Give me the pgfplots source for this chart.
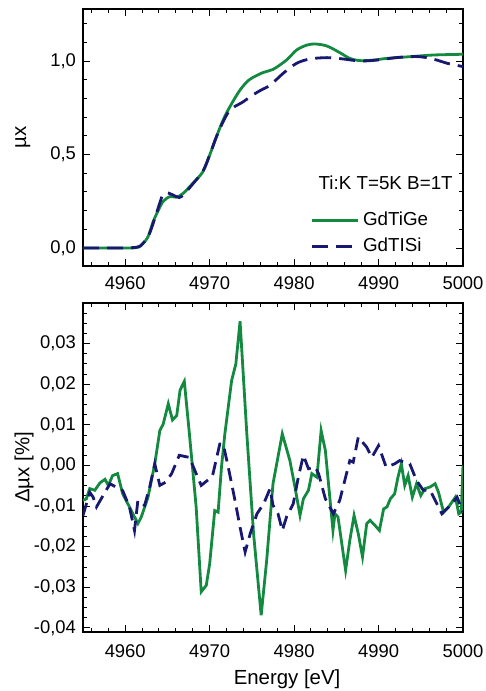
\documentclass[border=0pt]{standalone}
\usepackage{pgfplots}
\pgfplotsset{compat=1.18}
\usepackage{fontspec}
\setmainfont{Liberation Sans}

\definecolor{gtgreen}{RGB}{20,138,64}
\definecolor{gtnavy}{RGB}{24,24,112}

\pgfplotsset{
  panel/.style={
    scale only axis,
    width=190pt,
    xmin=4955, xmax=5000,
    xtick={4960,4970,...,5000},
    minor xtick={4956,4958,...,5000},
    tick align=inside,
    major tick length=3.5pt,
    minor tick length=2pt,
    every tick/.style={black, line width=0.5pt},
    axis line style={line width=0.8pt},
    tick label style={font=\fontsize{9.2}{11}\selectfont},
    label style={font=\fontsize{10.2}{12}\selectfont},
    /pgf/number format/assume math mode=true,
    scaled x ticks=false, scaled y ticks=false,
    x tick label style={/pgf/number format/fixed, /pgf/number format/1000 sep={}},
  },
  gdge/.style={color=gtgreen, line width=1.4pt},
  gdsi/.style={color=gtnavy, line width=1.4pt, dash pattern=on 7pt off 3.5pt},
}

\begin{document}
\begin{tikzpicture}
\useasboundingbox (0,0) rectangle (243pt,-345.5pt);

% upper panel: absorption
\begin{axis}[
  panel,
  at={(41.5pt,-133pt)}, anchor=south west,
  height=128.5pt,
  ymin=-0.096, ymax=1.278,
  ytick={0,0.5,1},
  minor ytick={0.1,0.2,0.3,0.4,0.6,0.7,0.8,0.9,1.1,1.2},
  y tick label style={/pgf/number format/fixed, /pgf/number format/fixed zerofill,
    /pgf/number format/precision=1, /pgf/number format/use comma},
  xticklabel style={yshift=-2pt},
  ylabel={µx},
  ylabel style={at={(axis description cs:-0.158,0.5)}, anchor=center},
  legend style={draw=none, fill=none, at={(axis description cs:0.597,0.226)}, anchor=north west,
    font=\fontsize{9.4}{11}\selectfont, row sep=0.5pt, inner sep=0pt,
    /tikz/every even column/.append style={column sep=2pt}},
  legend cell align=left,
  legend image code/.code={\draw[#1] (0pt,0pt) -- (23pt,0pt);},
]
\addplot[gdge, smooth] coordinates {
  (4955,0) (4958,0) (4961.3,0.002) (4962.1,0.025) (4962.7,0.06) (4963.3,0.14)
  (4963.9,0.20) (4964.5,0.25) (4965.3,0.275) (4966.0,0.272) (4966.8,0.29)
  (4968.0,0.346) (4969.2,0.408) (4970.0,0.497) (4970.8,0.595) (4971.6,0.685)
  (4972.4,0.756) (4973.6,0.845) (4974.7,0.90) (4976.3,0.938) (4977.5,0.955)
  (4979.1,1.005) (4980.3,1.059) (4981.5,1.085) (4982.5,1.091) (4983.9,1.080)
  (4985.4,1.045) (4986.6,1.014) (4987.8,1.002) (4989.4,1.005) (4991.0,1.014)
  (4993.7,1.023) (4996.5,1.032) (5000,1.036)
};
\addlegendentry{GdTiGe}
\addplot[gdsi, smooth, dash pattern=on 8pt off 4pt] coordinates {
  (4955,0) (4958,0) (4961.3,0.004) (4962.2,0.03) (4962.9,0.08) (4963.8,0.20)
  (4964.4,0.28) (4964.9,0.296) (4965.7,0.283) (4966.4,0.27) (4967.0,0.29)
  (4968.4,0.364) (4969.2,0.41) (4970.0,0.497) (4970.8,0.595) (4971.6,0.676)
  (4972.2,0.725) (4972.8,0.752) (4973.9,0.78) (4975.1,0.818) (4976.1,0.845)
  (4977.2,0.872) (4978.7,0.934) (4980.3,0.988) (4981.9,1.011) (4983.9,1.018)
  (4985.8,1.011) (4987.8,1.0) (4989.8,1.005) (4992.5,1.02) (4994.9,1.023)
  (4996.9,1.005) (4998.1,0.988) (5000,0.97)
};
\addlegendentry{GdTISi}
\node[anchor=east, font=\fontsize{9.4}{11}\selectfont, inner sep=0pt]
  at (axis description cs:0.974,0.323) {Ti:K T=5K B=1T};
\end{axis}

% lower panel: difference
\begin{axis}[
  panel,
  at={(41.5pt,-316pt)}, anchor=south west,
  height=164.5pt,
  ymin=-0.041, ymax=0.040,
  ytick={-0.04,-0.03,...,0.031},
  minor ytick={-0.0375,-0.035,-0.0325,-0.0275,-0.025,-0.0225,-0.0175,-0.015,-0.0125,
    -0.0075,-0.005,-0.0025,0.0025,0.005,0.0075,0.0125,0.015,0.0175,0.0225,0.025,0.0275,
    0.0325,0.035,0.0375},
  y tick label style={/pgf/number format/fixed, /pgf/number format/fixed zerofill,
    /pgf/number format/precision=2, /pgf/number format/use comma},
  xticklabel style={yshift=-3pt},
  xlabel={Energy [eV]},
  xlabel style={at={(axis description cs:0.537,-0.143)}, anchor=center},
  ylabel={Δµx [\%]},
  ylabel style={at={(axis description cs:-0.155,0.5)}, anchor=center},
]
\addplot[gdge] coordinates {
  (4955,-0.0086) (4955.4,-0.0082) (4955.8,-0.0057) (4956.4,-0.0061) (4957.0,-0.0043)
  (4957.6,-0.0034) (4958.0,-0.0049) (4958.5,-0.0025) (4959.1,-0.0020) (4959.7,-0.0070)
  (4960.5,-0.0102) (4961.5,-0.0143) (4961.9,-0.0127) (4962.7,-0.0078) (4963.5,0.0004)
  (4964.1,0.0086) (4964.5,0.0102) (4965.1,0.0152) (4965.6,0.0112) (4966.1,0.0123)
  (4966.5,0.0186) (4967.0,0.0207) (4967.6,0.0078) (4968.4,-0.0102) (4969.0,-0.0311)
  (4969.6,-0.0295) (4970.0,-0.0242) (4970.6,-0.0111) (4971.0,-0.0115) (4971.4,-0.0004)
  (4971.8,0.0078) (4972.6,0.0209) (4973.1,0.0250) (4973.6,0.0355) (4974.4,0.0078)
  (4975.2,-0.0168) (4976.1,-0.0369) (4976.75,-0.0234) (4977.5,-0.0045) (4978.6,0.0078)
  (4979.5,0.0012) (4980.1,-0.0053) (4980.7,-0.0123) (4981.1,-0.0082) (4981.7,-0.0061)
  (4982.1,-0.0020) (4982.7,-0.0029) (4983.2,0.0086) (4983.7,0.0037) (4984.6,-0.0160)
  (4984.84,-0.0119) (4985.2,-0.0127) (4986.1,-0.0258) (4986.6,-0.0184) (4987.1,-0.0123)
  (4987.6,-0.0168) (4988.1,-0.0225) (4988.6,-0.0143) (4989.0,-0.0135) (4989.6,-0.0148)
  (4990.1,-0.0160) (4990.6,-0.0107) (4991.0,-0.0102) (4991.4,-0.0082) (4991.9,-0.0070)
  (4992.3,-0.0029) (4992.7,0.0004) (4993.1,-0.0049) (4993.5,-0.0025) (4994.0,-0.0078)
  (4994.5,-0.0045) (4995.0,-0.0074) (4995.5,-0.0057) (4996.1,-0.0053) (4996.7,-0.0045)
  (4997.1,-0.0066) (4997.7,-0.0115) (4998.3,-0.0102) (4999.1,-0.0078) (4999.5,-0.0119)
  (4999.8,-0.0115) (5000,0.0)
};
\addplot[gdsi, dash pattern=on 6.5pt off 3.5pt] coordinates {
  (4955,-0.0123) (4955.8,-0.0066) (4956.2,-0.0078) (4956.6,-0.0102) (4957.6,-0.0066)
  (4958.2,-0.0045) (4959.7,-0.0062) (4960.5,-0.0102) (4961.1,-0.0160) (4961.5,-0.0086)
  (4962.3,-0.0098) (4962.9,-0.0053) (4963.5,0.0004) (4964.1,-0.0049) (4964.8,-0.0041)
  (4965.5,-0.0020) (4966.4,0.0025) (4967.6,0.0020) (4968.4,-0.0020) (4969.0,-0.0049)
  (4970.2,-0.0029) (4970.4,-0.0020) (4971.2,0.0053) (4971.6,0.0053) (4972.2,-0.0004)
  (4973.0,-0.0086) (4973.6,-0.0152) (4974.2,-0.0213) (4974.8,-0.0168) (4975.6,-0.0119)
  (4976.4,-0.0094) (4977.15,-0.0057) (4977.5,-0.0098) (4978.1,-0.0119) (4978.6,-0.0160)
  (4979.1,-0.0127) (4979.9,-0.0094) (4980.5,-0.0029) (4981.1,0.0025) (4981.7,-0.0008)
  (4982.5,-0.0004) (4982.9,-0.0020) (4983.7,-0.0082) (4984.65,-0.0119) (4985.4,-0.0086)
  (4986.0,-0.0037) (4986.6,0.0012) (4987.0,0.0008) (4987.6,0.0070) (4988.6,0.0045)
  (4989.2,0.0020) (4990.0,0.0049) (4990.9,-0.0004) (4991.9,0.0004) (4992.5,0.0012)
  (4993.7,0.0004) (4994.5,-0.0037) (4995.3,-0.0061) (4996.1,-0.0061) (4996.9,-0.0094)
  (4997.5,-0.0119) (4998.5,-0.0098) (4999.3,-0.0078) (5000,-0.0115)
};
\end{axis}
\end{tikzpicture}
\end{document}
